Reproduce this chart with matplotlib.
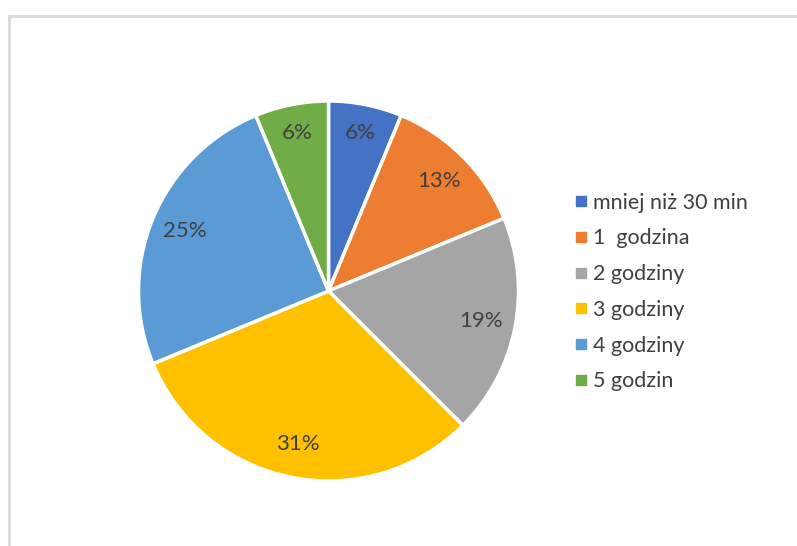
import matplotlib
matplotlib.use("Agg")
import matplotlib.pyplot as plt
from matplotlib.lines import Line2D
from matplotlib.patches import Rectangle
import numpy as np

plt.rcParams['font.family'] = ['Lato', 'DejaVu Sans']

categories = ["mniej niż 30 min", "1  godzina", "2 godziny", "3 godziny", "4 godziny", "5 godzin"]
counts = [2, 4, 6, 10, 8, 2]
colors = ["#4472C4", "#ED7D31", "#A5A5A5", "#FFC000", "#5B9BD5", "#70AD47"]

W, H, DPI = 797, 546, 100
fig = plt.figure(figsize=(W / DPI, H / DPI), dpi=DPI)
fig.patch.set_facecolor("white")

# chart-area frame
fig.patches.append(Rectangle((9 / W, -0.1), 1.2, (H - 16) / H + 0.1,
                             transform=fig.transFigure, fill=False,
                             edgecolor="#D9D9D9", linewidth=2))

cx, cy, r = 328.5, 291, 190
ax = fig.add_axes([(cx - r) / W, (H - cy - r) / H, 2 * r / W, 2 * r / H])

total = sum(counts)


def pct_label(p):
    return f"{int(p + 0.5 + 1e-9)}%"


wedges, texts = ax.pie(counts, colors=colors, startangle=90, counterclock=False,
                       radius=1.0,
                       wedgeprops=dict(edgecolor="white", linewidth=2.5))

# percentage labels placed inside each slice
for w, c in zip(wedges, counts):
    pct = 100 * c / total
    ang = np.deg2rad((w.theta1 + w.theta2) / 2)
    d = 0.85 if pct < 10 else 0.82
    ax.text(d * np.cos(ang), d * np.sin(ang), pct_label(pct),
            ha="center", va="center", fontsize=16, color="#404040")

ax.set_xlim(-1, 1)
ax.set_ylim(-1, 1)
ax.set_aspect("equal")
ax.axis("off")

handles = [Line2D([], [], marker="s", linestyle="none", markersize=6.5,
                  markerfacecolor=c, markeredgecolor=c) for c in colors]
fig.legend(handles, categories, loc="upper left",
           bbox_to_anchor=(564 / W, 1 - 182 / H), frameon=False,
           fontsize=15.5, labelspacing=0.73, handlelength=0.55,
           handletextpad=0.3, labelcolor="#404040", borderpad=0)

fig.savefig("out.png", dpi=DPI)
